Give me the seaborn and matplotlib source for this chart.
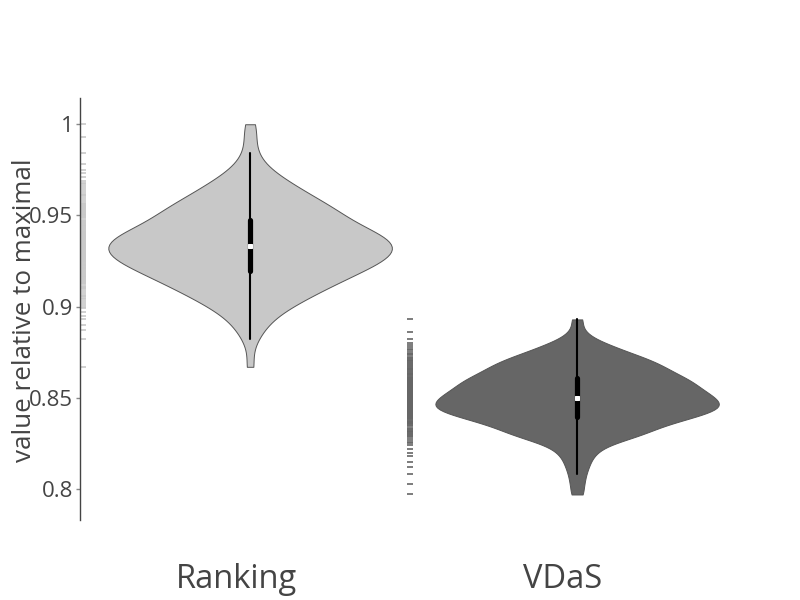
import numpy as np
import pandas as pd
import matplotlib
matplotlib.use("Agg")
import matplotlib.pyplot as plt
import seaborn as sns

# -----------------------------
# Data
# -----------------------------
methods = ["Ranking", "VDaS"]
colors = {"Ranking": "#c8c8c8", "VDaS": "#666666"}
bandwidth = {"Ranking": 0.85, "VDaS": 0.6}

ranking_values = [
    0.867, 0.882, 0.887, 0.890, 0.893, 0.895, 0.897, 0.899,
    0.900, 0.901, 0.902, 0.903,
    0.904, 0.905, 0.906, 0.906, 0.907, 0.908,
    0.909, 0.910, 0.910, 0.911, 0.911, 0.912, 0.913, 0.913,
    0.914, 0.914, 0.915, 0.915, 0.916, 0.916, 0.917, 0.917, 0.918, 0.918,
    0.919, 0.919, 0.920, 0.920, 0.921, 0.921, 0.921, 0.922, 0.922, 0.923, 0.923, 0.923,
    0.924, 0.924, 0.925, 0.925, 0.925, 0.926, 0.926, 0.926, 0.927, 0.927, 0.927,
    0.928, 0.928, 0.928,
    0.929, 0.929, 0.929, 0.930, 0.930, 0.930, 0.931, 0.931, 0.931,
    0.932, 0.932, 0.932, 0.933, 0.933, 0.933,
    0.934, 0.934, 0.934, 0.935, 0.935, 0.935, 0.936, 0.936, 0.936,
    0.937, 0.937, 0.937, 0.938, 0.938, 0.938,
    0.939, 0.939, 0.939, 0.940, 0.940, 0.940, 0.941, 0.941, 0.941,
    0.942, 0.942, 0.943, 0.943,
    0.944, 0.944, 0.945, 0.945, 0.946, 0.946, 0.947, 0.947, 0.948,
    0.949, 0.949, 0.950, 0.950, 0.951, 0.951, 0.952, 0.952, 0.953, 0.953,
    0.954, 0.954, 0.955, 0.955, 0.956, 0.956, 0.957, 0.958,
    0.959, 0.960, 0.961, 0.961, 0.962, 0.963,
    0.964, 0.965, 0.966, 0.967, 0.968,
    0.969, 0.971, 0.973, 0.975, 0.978, 0.984, 0.993, 1.000,
]

vdas_values = [
    0.797, 0.803, 0.808, 0.812, 0.815, 0.818,
    0.820, 0.822, 0.824,
    0.825, 0.826, 0.827, 0.828, 0.829, 0.829,
    0.830, 0.830, 0.831, 0.831, 0.832, 0.832, 0.833, 0.833, 0.834,
    0.835, 0.835, 0.836, 0.836, 0.836, 0.837, 0.837, 0.837, 0.838, 0.838,
    0.839, 0.839, 0.839,
    0.840, 0.840, 0.840, 0.841, 0.841, 0.841, 0.842, 0.842, 0.842, 0.842,
    0.843, 0.843, 0.843, 0.844, 0.844, 0.844, 0.844,
    0.845, 0.845, 0.845, 0.845, 0.846, 0.846, 0.846, 0.846, 0.847, 0.847, 0.847,
    0.848, 0.848, 0.848, 0.848, 0.849, 0.849, 0.849,
    0.850, 0.850, 0.850, 0.850, 0.851, 0.851, 0.851, 0.852, 0.852, 0.852, 0.852,
    0.853, 0.853, 0.853, 0.854, 0.854, 0.854,
    0.855, 0.855, 0.855, 0.856, 0.856, 0.856, 0.857, 0.857, 0.857,
    0.858, 0.858, 0.858, 0.859, 0.859, 0.859,
    0.860, 0.860, 0.860, 0.861, 0.861, 0.861, 0.862, 0.862,
    0.863, 0.863, 0.863, 0.864, 0.864,
    0.865, 0.865, 0.866, 0.866, 0.866, 0.867, 0.867, 0.868, 0.868, 0.869, 0.869,
    0.870, 0.870, 0.871, 0.871, 0.872, 0.872, 0.873, 0.874, 0.874,
    0.875, 0.876, 0.877, 0.878, 0.879,
    0.880, 0.882, 0.886, 0.893,
]

y_ticks = [0.8, 0.85, 0.9, 0.95, 1.0]
y_tick_labels = ["0.8", "0.85", "0.9", "0.95", "1"]

# -----------------------------
# Layout
# -----------------------------
violin_shift = 0.043   # violins sit a bit right of the category label
rug_shift = -0.467     # rug strip left of each violin

data = pd.DataFrame({
    "method": ["Ranking"] * len(ranking_values) + ["VDaS"] * len(vdas_values),
    "value": ranking_values + vdas_values,
})
data["idx"] = data["method"].map({m: i for i, m in enumerate(methods)})
data["pos"] = data["idx"] + violin_shift
data["rug"] = data["idx"] + rug_shift

sns.set_style("white")
plt.rcParams["font.family"] = ["Open Sans", "DejaVu Sans"]

fig = plt.figure(figsize=(8, 6), dpi=100)
ax = fig.add_axes([0.0994, 0.1333, 0.8006, 0.7034])

# -----------------------------
# Violins + rug strips
# -----------------------------
for m in methods:
    sub = data[data["method"] == m]

    sns.violinplot(
        data=sub,
        x="pos",
        y="value",
        color=colors[m],
        saturation=1,
        native_scale=True,
        density_norm="width",
        cut=0,
        bw_adjust=bandwidth[m],
        width=0.867,
        linewidth=0.7,
        linecolor="#555555",
        inner="box",
        inner_kws=dict(box_width=3.75, whis_width=1.5, color="black", marker="s"),
        ax=ax,
    )

    ax.scatter(
        sub["rug"],
        sub["value"],
        marker="_",
        s=16,
        linewidths=1.2,
        color=colors[m],
    )

# -----------------------------
# Axes styling
# -----------------------------
ax.set_xlim(-0.4786, 1.48)
ax.set_ylim(0.783, 1.0144)

ax.set_xticks([0, 1])
ax.set_xticklabels(methods, fontsize=23.5, color="#444444")
ax.tick_params(axis="x", length=0, pad=31)

ax.set_yticks(y_ticks)
ax.set_yticklabels(y_tick_labels, fontsize=16, color="#444444")
ax.tick_params(axis="y", length=3, width=1, color="#888888", pad=1.5, left=True)

ax.set_xlabel("")
ax.set_ylabel("")
for side in ["top", "right", "bottom"]:
    ax.spines[side].set_visible(False)
ax.spines["left"].set_color("#444444")
ax.spines["left"].set_linewidth(1)

fig.text(25 / 800, 1 - 310 / 600, "value relative to maximal",
         rotation=90, ha="center", va="center", fontsize=18.75, color="#444444")

plt.savefig("out.png", dpi=100)
plt.close()
